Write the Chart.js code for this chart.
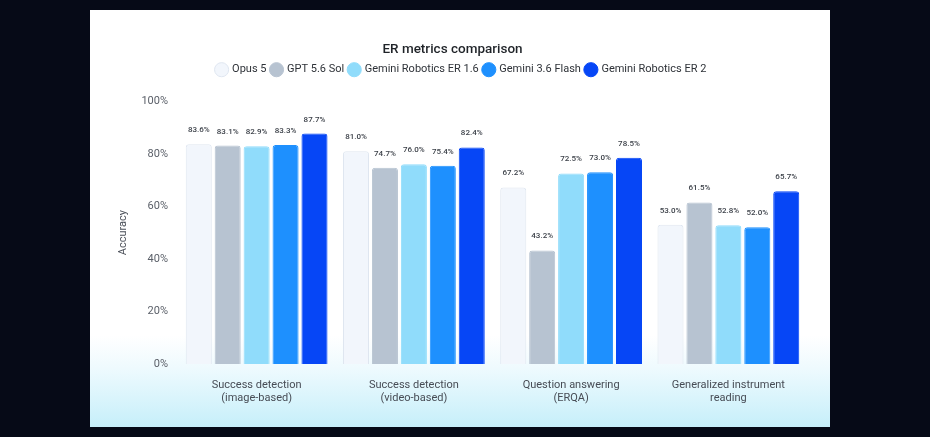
<!DOCTYPE html>
<html>
<head>
<meta charset="utf-8">
<script src="https://cdn.jsdelivr.net/npm/chart.js@4"></script>
<style>
  html, body { margin: 0; padding: 0; background: #060a17; width: 930px; height: 437px; overflow: hidden; }
  #panel {
    position: absolute; left: 90px; top: 10px; width: 740px; height: 417px;
    background: linear-gradient(to bottom, #ffffff 0%, #ffffff 78%, #eefafe 86%, #c6effa 100%);
  }
  #myChart { position: absolute; left: 0; top: 0; }
</style>
</head>
<body>
<div id="panel"><canvas id="myChart" width="740" height="417"></canvas></div>
<script>
const categories = [
  ['Success detection', '(image-based)'],
  ['Success detection', '(video-based)'],
  ['Question answering', '(ERQA)'],
  ['Generalized instrument', 'reading']
]
const models = ['Opus 5', 'GPT 5.6 Sol', 'Gemini Robotics ER 1.6', 'Gemini 3.6 Flash', 'Gemini Robotics ER 2']
const opus5 = [83.6, 81.0, 67.2, 53.0]
const gpt56Sol = [83.1, 74.7, 43.2, 61.5]
const erOne6 = [82.9, 76.0, 72.5, 52.8]
const flash36 = [83.3, 75.4, 73.0, 52.0]
const erTwo = [87.7, 82.4, 78.5, 65.7]
const yTicks = [0, 20, 40, 60, 80, 100]

const fills = ['#f2f6fc', '#b7c3d1', '#90dcfb', '#1e90fe', '#0646f6']
const borders = ['#dfe6f0', '#b7c3d1', '#90dcfb', '#1e90fe', '#0646f6']
const series = [opus5, gpt56Sol, erOne6, flash36, erTwo]

const font = 'Roboto, "Noto Sans", sans-serif'

// value labels over each bar
const valueLabels = {
  id: 'valueLabels',
  afterDatasetsDraw(chart) {
    const ctx = chart.ctx
    ctx.save()
    ctx.font = '500 8px ' + font
    ctx.fillStyle = '#3a3f47'
    ctx.textAlign = 'center'
    ctx.textBaseline = 'middle'
    chart.data.datasets.forEach((ds, i) => {
      chart.getDatasetMeta(i).data.forEach((bar, j) => {
        ctx.fillText(ds.data[j].toFixed(1) + '%', bar.x, bar.y - 14)
      })
    })
    ctx.restore()
  }
}

// extra room under the legend, and nudge title/legend right a bit
const legendGap = {
  id: 'legendGap',
  beforeInit(chart) {
    const fit = chart.legend.fit
    chart.legend.fit = function () {
      fit.bind(chart.legend)()
      this.height += 16
    }
  },
  afterLayout(chart) {
    chart.legend.left += 13
    chart.legend.right += 13
    chart.titleBlock.left += 4
    chart.titleBlock.right += 4
  }
}

const data = {
  labels: categories,
  datasets: series.map((vals, i) => ({
    label: models[i],
    data: vals,
    backgroundColor: fills[i],
    borderColor: borders[i],
    borderWidth: 1,
    borderRadius: { topLeft: 3, topRight: 3 },
    borderSkipped: 'bottom',
    categoryPercentage: 0.92,
    barPercentage: 0.9
  }))
}

const config = {
  type: 'bar',
  data: data,
  options: {
    responsive: false,
    animation: false,
    layout: { padding: { left: 0, right: 23, top: 32, bottom: 0 } },
    plugins: {
      title: {
        display: true,
        text: 'ER metrics comparison',
        color: '#1f2328',
        font: { family: font, size: 13.5, weight: '500' },
        padding: { top: 0, bottom: 1 }
      },
      legend: {
        display: true,
        labels: {
          usePointStyle: true,
          pointStyle: 'circle',
          boxWidth: 10,
          boxHeight: 10,
          padding: 5,
          color: '#2e3238',
          font: { family: font, size: 11 }
        }
      },
      tooltip: { enabled: false }
    },
    scales: {
      x: {
        grid: { display: false },
        border: { display: false },
        ticks: {
          color: '#474c55',
          font: { family: font, size: 11, lineHeight: 1.15 },
          padding: 7,
          maxRotation: 0
        },
        afterFit(scale) { scale.height = 63 }
      },
      y: {
        min: 0,
        max: 100,
        grid: { display: false },
        border: { display: false },
        afterBuildTicks(scale) { scale.ticks = yTicks.map(v => ({ value: v })) },
        ticks: {
          color: '#5a5f68',
          font: { family: font, size: 11 },
          padding: 2,
          callback: v => v + '%'
        },
        title: {
          display: true,
          text: 'Accuracy',
          color: '#4a4f58',
          font: { family: font, size: 11 },
          padding: { top: 27, bottom: 0 }
        },
        afterFit(scale) { scale.width = 88 }
      }
    }
  },
  plugins: [valueLabels, legendGap]
}

const myChart = new Chart(document.getElementById('myChart'), config)
</script>
</body>
</html>
